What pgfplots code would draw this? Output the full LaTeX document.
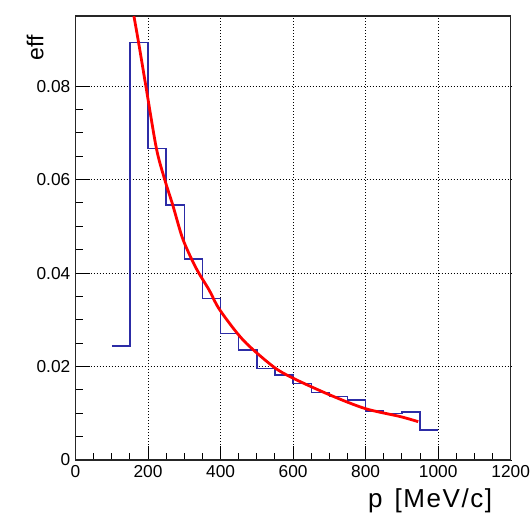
\documentclass[border=0pt]{standalone}
\usepackage{fontspec}
\setmainfont{Liberation Sans}
\usepackage{pgfplots}
\pgfplotsset{compat=1.18}
\definecolor{histblue}{RGB}{44,44,166}
\begin{document}
\begin{tikzpicture}[x=1pt,y=1pt]
\useasboundingbox (-75.5,-52) rectangle (456.5,460);
\begin{axis}[at={(0,0)}, anchor=south west, scale only axis,
 width=435.2pt, height=444pt,
 xmin=0, xmax=1200, ymin=0, ymax=0.095,
 xtick={0,200,...,1200}, xticklabels={0,200,400,600,800,1000,1200},
 ytick={0,0.02,0.04,0.06,0.08}, yticklabels={0,0.02,0.04,0.06,0.08},
 minor x tick num=3, minor y tick num=3,
 tick pos=left, tick align=inside,
 major tick length=14pt, minor tick length=7.5pt,
 grid=major, major grid style={black, line width=0.6pt, dash pattern=on 1pt off 2pt},
 axis line style={line width=1.2pt, black!85},
 tick style={black, line width=1pt},
 tick label style={font=\fontsize{17.3}{20}\selectfont, inner sep=0pt},
 xticklabel style={yshift=-5pt},
 yticklabel style={xshift=-5pt},
 scaled ticks=false,
 clip=true,
]
\addplot[histblue, line width=1.4pt, const plot mark left] coordinates {
(100,0.0244) (150,0.0893) (200,0.0667) (250,0.0546) (300,0.0430)
(350,0.0345) (400,0.0271) (450,0.0235) (500,0.0196) (550,0.0182)
(600,0.0164) (650,0.0144) (700,0.0136) (750,0.0128) (800,0.0105)
(850,0.0100) (900,0.0103) (950,0.0064) (1000,0.0064)
};
\addplot[red, line width=2.8pt, smooth] coordinates {
(161,0.0950) (174,0.0893) (194,0.0800) (223,0.0667) (246,0.0600)
(268,0.0546) (294,0.0477) (320,0.0430) (340,0.0400) (369,0.0363)
(398,0.0321) (463,0.0256) (545,0.0200) (600,0.0175) (702,0.0139)
(799,0.0110) (895,0.0093) (945,0.0082)
};
\end{axis}
\node[anchor=base east, font=\fontsize{26}{30}\selectfont\addfontfeatures{LetterSpace=6}, inner sep=0pt] at (416.8,-47.3) {p\hspace{12pt}[MeV/c]};
\node[rotate=90, anchor=base east, font=\fontsize{23}{27}\selectfont, inner sep=0pt] at (-32.2,425) {eff};
\end{tikzpicture}
\end{document}
